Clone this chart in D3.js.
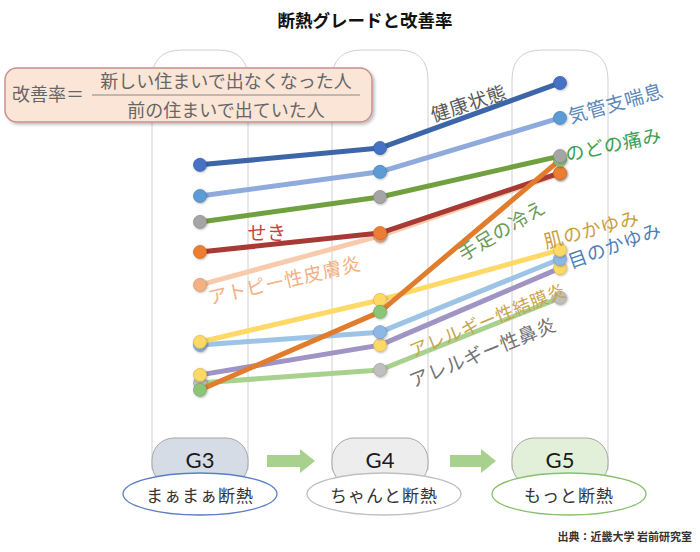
<!DOCTYPE html>
<html><head><meta charset="utf-8">
<script src="https://cdn.jsdelivr.net/npm/d3@7"></script>
<style>body{margin:0;background:#fff} svg{display:block}</style>
</head><body>
<script>
// ---- data ----
const grades = ["G3", "G4", "G5"];
const gradeNames = ["まぁまぁ断熱", "ちゃんと断熱", "もっと断熱"];
const atopy      = [38.6, 52.6, 70.3];  // アトピー性皮膚炎
const cough      = [48.0, 53.4, 70.6];  // せき
const rhinitis   = [10.6, 14.3, 34.9];  // アレルギー性鼻炎
const conjunct   = [12.9, 21.4, 43.4];  // アレルギー性結膜炎
const eyeItch    = [21.4, 25.1, 46.0];  // 目のかゆみ
const skinItch   = [22.3, 34.3, 48.6];  // 肌のかゆみ
const coldHands  = [8.6, 30.9, 74.3];   // 手足の冷え
const throat     = [56.6, 63.7, 75.4];  // のどの痛み
const asthma     = [64.0, 70.9, 86.3];  // 気管支喘息
const health     = [72.9, 77.7, 96.3];  // 健康状態
const seriesNames = ["アトピー性皮膚炎","せき","アレルギー性鼻炎","アレルギー性結膜炎","目のかゆみ","肌のかゆみ","手足の冷え","のどの痛み","気管支喘息","健康状態"];
const seriesValues = [atopy, cough, rhinitis, conjunct, eyeItch, skinItch, coldHands, throat, asthma, health];

// ---- styles ----
const lineColors   = ["#f8cbad","#a83a36","#a9d18e","#a094c4","#9dc3e6","#ffd966","#e07c2c","#70a040","#8faadc","#3c66a8"];
const markerColors = ["#f4b183","#ed7d31","#bfbfbf","#ffd966","#8db8e6","#ffd966","#8cc578","#a5a5a5","#5b9bd5","#4472c4"];
const labelColors  = ["#f4b183","#c8403a","#737373","#c9a54a","#4f7fba","#c9a040","#6b9a55","#3c9e50","#5a87bb","#595959"];
const labelPos = [[284,279,-13],[267,231,0],[482,351,-22],[487,319,-22],[614,244,-20],[591,228,-15],[501,229,-31],[613,143,-12],[615,102,-16],[468,102,-18]];
const labelSize = [19,19,19,18,19,19,19,19,19,19];

const W = 700, H = 552;
const FONT = "'Noto Sans CJK JP','Noto Sans',sans-serif";
const svg = d3.select("body").append("svg").attr("width", W).attr("height", H);

const x = d3.scalePoint().domain(grades).range([200, 560]);
const y = d3.scaleLinear().domain([0, 100]).range([420, 70]);

// defs
const defs = svg.append("defs");
const sh = defs.append("filter").attr("id","shadow").attr("x","-10%").attr("y","-10%").attr("width","130%").attr("height","140%");
sh.append("feDropShadow").attr("dx",2).attr("dy",2).attr("stdDeviation",1.5).attr("flood-color","#000").attr("flood-opacity",0.25);
const msh = defs.append("filter").attr("id","mshadow").attr("x","-50%").attr("y","-50%").attr("width","200%").attr("height","200%");
msh.append("feDropShadow").attr("dx",0.8).attr("dy",0.8).attr("stdDeviation",0.8).attr("flood-color","#000").attr("flood-opacity",0.3);

// title
svg.append("text").attr("x", 365).attr("y", 27).attr("text-anchor","middle")
  .attr("font-family", FONT).attr("font-weight", 700).attr("font-size", 17.5).attr("fill","#111")
  .text("断熱グレードと改善率");

// columns (rounded top panels)
const colW = 96, colTop = 50, colBot = 470, r = 30;
grades.forEach(g => {
  const cx = x(g), l = cx - colW/2, rr = cx + colW/2;
  const p = `M${l},${colBot} L${l},${colTop+r} Q${l},${colTop} ${l+r},${colTop} L${rr-r},${colTop} Q${rr},${colTop} ${rr},${colTop+r} L${rr},${colBot} Z`;
  svg.append("path").attr("d", p).attr("fill","#fff").attr("stroke","#d0d0d0").attr("stroke-width",1);
});

// formula box
const box = svg.append("g");
box.append("rect").attr("x",5).attr("y",68).attr("width",367).attr("height",54).attr("rx",12)
  .attr("fill","#fbe5d6").attr("stroke","#c99090").attr("stroke-width",1.5).attr("filter","url(#shadow)");
box.append("text").attr("x",12).attr("y",101).attr("font-family",FONT).attr("font-size",18).attr("fill","#666")
  .text("改善率＝");
box.append("line").attr("x1",92).attr("x2",360).attr("y1",95).attr("y2",95).attr("stroke","#888").attr("stroke-width",1);
box.append("text").attr("x",226).attr("y",88).attr("text-anchor","middle").attr("font-family",FONT).attr("font-size",18).attr("fill","#666")
  .text("新しい住まいで出なくなった人");
box.append("text").attr("x",226).attr("y",117).attr("text-anchor","middle").attr("font-family",FONT).attr("font-size",18).attr("fill","#666")
  .text("前の住まいで出ていた人");

// lines
const line = d3.line().x((d,i) => x(grades[i])).y(d => y(d));
seriesValues.forEach((vals, si) => {
  const g = svg.append("g");
  g.append("path").attr("d", line(vals)).attr("fill","none").attr("stroke", lineColors[si])
    .attr("stroke-width", 5).attr("stroke-linejoin","round").attr("stroke-linecap","round");
  g.selectAll("circle").data(vals).join("circle")
    .attr("cx", (d,i) => x(grades[i])).attr("cy", d => y(d)).attr("r", 6.5)
    .attr("fill", markerColors[si]).attr("stroke", d3.color(markerColors[si]).darker(0.4)).attr("stroke-width",0.8)
    .attr("filter","url(#mshadow)");
});

// series labels
seriesNames.forEach((n, si) => {
  const [lx, ly, a] = labelPos[si];
  svg.append("text").attr("transform", `translate(${lx},${ly}) rotate(${a})`)
    .attr("text-anchor","middle").attr("dominant-baseline","central")
    .attr("font-family", FONT).attr("font-size", labelSize[si]).attr("letter-spacing", 0.5).attr("fill", labelColors[si])
    .text(n);
});

// grade pills
const pillFill = ["#d6dce5","#ededed","#e2f0d9"];
const ellStroke = ["#5b7fc0","#bfbfbf","#86c06c"];
const ellCx = [200, 384, 569];
grades.forEach((g, i) => {
  const cx = x(g);
  svg.append("rect").attr("x", cx - 48).attr("y", 438).attr("width", 96).attr("height", 48).attr("rx", 22)
    .attr("fill", pillFill[i]).attr("stroke","#a6a6a6").attr("stroke-width",1);
  svg.append("text").attr("x", cx).attr("y", 468).attr("text-anchor","middle")
    .attr("font-family","Lato,'Open Sans',sans-serif").attr("font-size",22).attr("fill","#1a1a1a").text(g);
  svg.append("ellipse").attr("cx", ellCx[i]).attr("cy", 494).attr("rx", 77).attr("ry", 21)
    .attr("fill","#fff").attr("stroke", ellStroke[i]).attr("stroke-width",1.3);
  svg.append("text").attr("x", ellCx[i]).attr("y", 494).attr("text-anchor","middle").attr("dominant-baseline","central")
    .attr("font-family",FONT).attr("font-size",17).attr("letter-spacing",1).attr("fill","#333").text(gradeNames[i]);
});

// arrows
[[267,315],[450,496]].forEach(([a,b]) => {
  const hx = b - 15;
  svg.append("path").attr("d", `M${a},${455} L${hx},455 L${hx},449 L${b},461 L${hx},473 L${hx},467 L${a},467 Z`)
    .attr("fill","#a9d18e");
});

// source
svg.append("text").attr("x", 692).attr("y", 541).attr("text-anchor","end")
  .attr("font-family",FONT).attr("font-size",11).attr("font-weight",700).attr("fill","#333")
  .text("出典：近畿大学 岩前研究室");
</script>
</body></html>
